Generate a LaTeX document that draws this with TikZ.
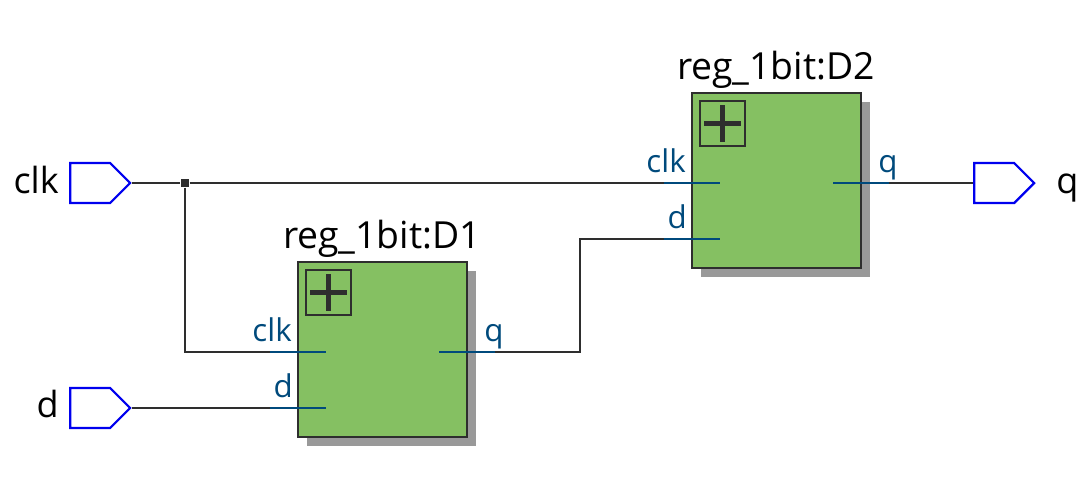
\documentclass[tikz,border=0pt]{standalone}
\usepackage{fontspec}
\setmainfont{Open Sans}
\usetikzlibrary{shapes.symbols}
\definecolor{wirecol}{HTML}{2E2E2E}
\definecolor{pincol}{HTML}{004A7C}
\definecolor{portcol}{HTML}{0000EE}
\definecolor{blockcol}{HTML}{85C062}
\definecolor{shadecol}{HTML}{999999}
\tikzset{
    portnode/.style={signal, signal to=east, signal pointer angle=90, draw=portcol, line width=1.7pt, minimum width=45pt, minimum height=30pt, inner sep=0pt, anchor=west},
    blocknode/.style={rectangle, draw=wirecol, fill=blockcol, line width=1.6pt, minimum width=126.75pt, minimum height=131.25pt},
    shadenode/.style={rectangle, fill=shadecol, minimum width=126.75pt, minimum height=131.25pt},
    plusnode/.style={rectangle, draw=wirecol, line width=1.1pt, minimum size=33.75pt, inner sep=0pt},
    plusline/.style={draw=wirecol, line width=3.75pt},
    dotnode/.style={rectangle, fill=wirecol, minimum size=6.5pt, inner sep=0pt},
    wire/.style={draw=wirecol, line width=1.5pt},
    pinwire/.style={draw=pincol, line width=1.5pt},
    titlelabel/.style={font=\fontsize{28}{32}\selectfont, text=black, inner sep=0pt},
    portlabel/.style={font=\fontsize{27}{32}\selectfont, text=black, inner sep=0pt},
    pinlabel/.style={font=\fontsize{23.5}{28}\selectfont, text=pincol, inner sep=0pt},
}
\begin{document}
\begin{tikzpicture}[x=0.75pt, y=-0.75pt]
    \useasboundingbox (0,0) rectangle (1079,476);

    % Shadows
    \node[shadenode] (s1) at (391.5, 358.5) {};
    \node[shadenode] (s2) at (785.5, 189.5) {};

    % Blocks
    \node[blocknode] (d1) at (382.5, 349.5) {};
    \node[blocknode] (d2) at (776.5, 180.5) {};
    \node[plusnode] (p1) at (328.5, 292.5) {};
    \node[plusnode] (p2) at (722.5, 123.5) {};
    \foreach \p in {p1, p2} {
        \draw[plusline] (\p.center) ++(-18.5,0) -- ++(37,0);
        \draw[plusline] (\p.center) ++(0,-18.5) -- ++(0,37);
    }
    \node[titlelabel, anchor=base] (t1) at (382, 248) {reg\_1bit:D1};
    \node[titlelabel, anchor=base] (t2) at (776, 79) {reg\_1bit:D2};

    % Ports
    \node[portnode] (clk) at (69, 183) {};
    \node[portnode] (din) at (69, 408) {};
    \node[portnode] (qout) at (973, 183) {};
    \node[portlabel, anchor=base east] (lclk) at (59, 193) {clk};
    \node[portlabel, anchor=base east] (ld) at (59, 417) {d};
    \node[portlabel, anchor=base west] (lq) at (1056, 193) {q};
    \node[dotnode] (dot) at (185, 183) {};

    % Pin ends
    \coordinate (c1a) at (270, 352);
    \coordinate (c1b) at (326, 352);
    \coordinate (d1a) at (270, 408);
    \coordinate (d1b) at (326, 408);
    \coordinate (q1a) at (495, 352);
    \coordinate (q1b) at (439, 352);
    \coordinate (c2a) at (664, 183);
    \coordinate (c2b) at (720, 183);
    \coordinate (d2a) at (664, 239);
    \coordinate (d2b) at (720, 239);
    \coordinate (q2a) at (889, 183);
    \coordinate (q2b) at (833, 183);

    % Wires
    \draw[wire] (clk.east) -- (dot) -- (c2a);
    \draw[wire] (dot) |- (c1a);
    \draw[wire] (din.east) -- (d1a);
    \draw[wire] (q1a) -- (580, 352) |- (d2a);
    \draw[wire] (q2a) -- (qout.west);
    \foreach \a/\b in {c1a/c1b, d1a/d1b, q1a/q1b, c2a/c2b, d2a/d2b, q2a/q2b}
        \draw[pinwire] (\a) -- (\b);

    % Pin labels
    \node[pinlabel, anchor=base east] (l1) at (292, 341) {clk};
    \node[pinlabel, anchor=base east] (l2) at (293, 397) {d};
    \node[pinlabel, anchor=base west] (l3) at (484, 341) {q};
    \node[pinlabel, anchor=base east] (l4) at (686, 172) {clk};
    \node[pinlabel, anchor=base east] (l5) at (687, 228) {d};
    \node[pinlabel, anchor=base west] (l6) at (878, 172) {q};
\end{tikzpicture}
\end{document}
